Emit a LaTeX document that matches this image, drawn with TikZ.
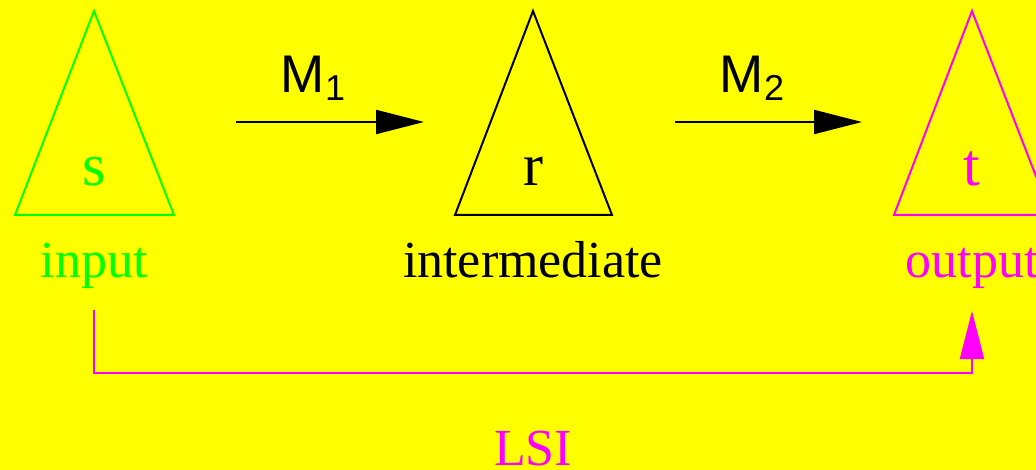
\documentclass[tikz,border=0pt]{standalone}
\usepackage{fontspec}
\setmainfont{Liberation Serif}
\newfontfamily\helv{Liberation Sans}
\usetikzlibrary{arrows.meta}
\definecolor{bgyellow}{HTML}{FFFF00}
\definecolor{pgreen}{HTML}{00FF00}
\definecolor{pmag}{HTML}{FF00FF}
\tikzset{
  tri/.style={line width=2pt, line join=miter},
  big/.style={font=\fontsize{52}{56}\selectfont, inner sep=0pt, anchor=base},
  letter/.style={font=\fontsize{60}{64}\selectfont, inner sep=0pt, anchor=base},
  lab/.style={font=\helv\fontsize{53}{56}\selectfont, inner sep=0pt, anchor=base},
  conn/.style={line width=2pt, -{Triangle[length=48pt,width=24pt]}},
}
\begin{document}
\begin{tikzpicture}[x=1pt,y=-1pt]
\fill[bgyellow] (0,0) rectangle (1036,470);
\useasboundingbox (0,0) rectangle (1036,470);
% triangles
\draw[tri, pgreen] (94,11) -- (174,215) -- (15,215) -- cycle;
\draw[tri, black] (533,11) -- (612,215) -- (455,215) -- cycle;
\draw[tri, pmag] (972,11) -- (1051,215) -- (894,215) -- cycle;
% letters
\node[letter, text=pgreen] (s) at (94,186) {s};
\node[letter, text=black] (r) at (533,186) {r};
\node[letter, text=pmag] (t) at (972,186) {t};
% labels
\node[big, text=pgreen] (input) at (94,278) {input};
\node[big, text=black] (inter) at (533,278) {intermediate};
\node[big, text=pmag] (output) at (972,278) {output};
\node[big, text=pmag] (lsi) at (533,465) {LSI};
% arrows
\coordinate (a1s) at (236,122);
\coordinate (a1e) at (424,122);
\coordinate (a2s) at (675,122);
\coordinate (a2e) at (862,122);
\draw[conn] (a1s) -- (a1e);
\draw[conn] (a2s) -- (a2e);
\node[lab] (m1) at (313,93) {M\raisebox{-8pt}{\fontsize{36}{38}\selectfont 1}};
\node[lab] (m2) at (752,93) {M\raisebox{-8pt}{\fontsize{36}{38}\selectfont 2}};
% LSI connector
\coordinate (ls) at (94,310);
\coordinate (le) at (972,311);
\draw[conn, pmag, line join=miter] (ls) -- (94,373) -| (le);
\end{tikzpicture}
\end{document}
